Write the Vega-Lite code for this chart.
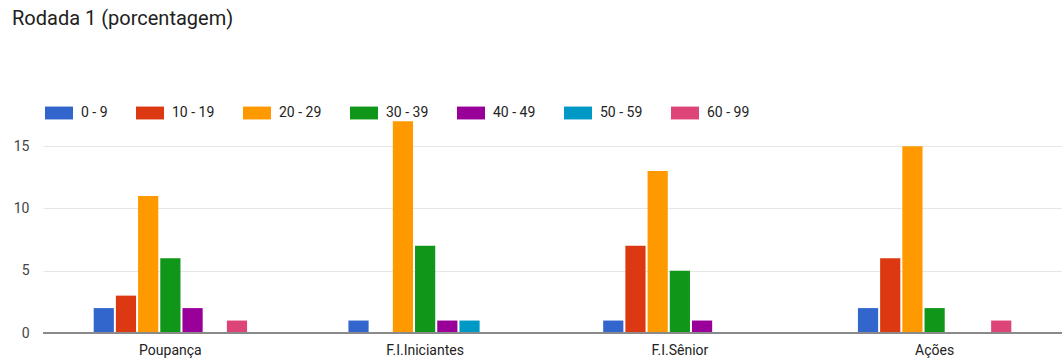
{
  "$schema": "https://vega.github.io/schema/vega-lite/v6.json",
  "width": 1019,
  "height": 218,
  "autosize": {"type": "none"},
  "padding": {"left": 43, "top": 115, "right": 0, "bottom": 28},
  "background": "white",
  "config": {
    "font": "Roboto",
    "view": {"stroke": null}
  },
  "title": {
    "text": "Rodada 1 (porcentagem)",
    "anchor": "start",
    "frame": "group",
    "dx": -31,
    "offset": 54,
    "baseline": "alphabetic",
    "fontSize": 20,
    "fontWeight": "normal",
    "color": "#212121",
    "font": "Roboto"
  },
  "data": {
    "values": [
      {"categoria": "Poupança", "faixa": "0 - 9", "valor": 2},
      {"categoria": "Poupança", "faixa": "10 - 19", "valor": 3},
      {"categoria": "Poupança", "faixa": "20 - 29", "valor": 11},
      {"categoria": "Poupança", "faixa": "30 - 39", "valor": 6},
      {"categoria": "Poupança", "faixa": "40 - 49", "valor": 2},
      {"categoria": "Poupança", "faixa": "50 - 59", "valor": 0},
      {"categoria": "Poupança", "faixa": "60 - 99", "valor": 1},
      {"categoria": "F.I.Iniciantes", "faixa": "0 - 9", "valor": 1},
      {"categoria": "F.I.Iniciantes", "faixa": "10 - 19", "valor": 0},
      {"categoria": "F.I.Iniciantes", "faixa": "20 - 29", "valor": 17},
      {"categoria": "F.I.Iniciantes", "faixa": "30 - 39", "valor": 7},
      {"categoria": "F.I.Iniciantes", "faixa": "40 - 49", "valor": 1},
      {"categoria": "F.I.Iniciantes", "faixa": "50 - 59", "valor": 1},
      {"categoria": "F.I.Iniciantes", "faixa": "60 - 99", "valor": 0},
      {"categoria": "F.I.Sênior", "faixa": "0 - 9", "valor": 1},
      {"categoria": "F.I.Sênior", "faixa": "10 - 19", "valor": 7},
      {"categoria": "F.I.Sênior", "faixa": "20 - 29", "valor": 13},
      {"categoria": "F.I.Sênior", "faixa": "30 - 39", "valor": 5},
      {"categoria": "F.I.Sênior", "faixa": "40 - 49", "valor": 1},
      {"categoria": "F.I.Sênior", "faixa": "50 - 59", "valor": 0},
      {"categoria": "F.I.Sênior", "faixa": "60 - 99", "valor": 0},
      {"categoria": "Ações", "faixa": "0 - 9", "valor": 2},
      {"categoria": "Ações", "faixa": "10 - 19", "valor": 6},
      {"categoria": "Ações", "faixa": "20 - 29", "valor": 15},
      {"categoria": "Ações", "faixa": "30 - 39", "valor": 2},
      {"categoria": "Ações", "faixa": "40 - 49", "valor": 0},
      {"categoria": "Ações", "faixa": "50 - 59", "valor": 0},
      {"categoria": "Ações", "faixa": "60 - 99", "valor": 1}
    ]
  },
  "layer": [
    {
      "mark": {"type": "bar"},
      "encoding": {
        "x": {
          "field": "categoria",
          "type": "nominal",
          "sort": ["Poupança", "F.I.Iniciantes", "F.I.Sênior", "Ações"],
          "scale": {"paddingInner": 0.39, "paddingOuter": 0.195},
          "axis": {
            "title": null,
            "labelAngle": 0,
            "ticks": false,
            "domain": false,
            "labelFontSize": 14,
            "labelColor": "#222222",
            "labelPadding": 10,
            "labelFont": "Roboto"
          }
        },
        "xOffset": {
          "field": "faixa",
          "type": "nominal",
          "sort": ["0 - 9", "10 - 19", "20 - 29", "30 - 39", "40 - 49", "50 - 59", "60 - 99"],
          "scale": {"paddingInner": 0.09, "paddingOuter": 0.045}
        },
        "y": {
          "field": "valor",
          "type": "quantitative",
          "scale": {"domain": [0, 17.5], "nice": false},
          "axis": {
            "title": null,
            "values": [0, 2.5, 5, 7.5, 10, 12.5, 15, 17.5],
            "labelExpr": "datum.value % 5 === 0 ? datum.label : ''",
            "ticks": false,
            "domain": false,
            "gridColor": "#e6e6e6",
            "gridWidth": 1,
            "labelFontSize": 14,
            "labelColor": "#444444",
            "labelPadding": 14,
            "labelFont": "Roboto"
          }
        },
        "color": {
          "field": "faixa",
          "type": "nominal",
          "sort": ["0 - 9", "10 - 19", "20 - 29", "30 - 39", "40 - 49", "50 - 59", "60 - 99"],
          "scale": {
            "domain": ["0 - 9", "10 - 19", "20 - 29", "30 - 39", "40 - 49", "50 - 59", "60 - 99"],
            "range": ["#3366cc", "#dc3912", "#ff9900", "#109618", "#990099", "#0099c6", "#dd4477"]
          },
          "legend": {
            "title": null,
            "orient": "none",
            "direction": "horizontal",
            "legendX": 2,
            "legendY": -16,
            "symbolType": "M-1,-0.46H1V0.46H-1Z",
            "symbolSize": 784,
            "symbolStrokeWidth": 0,
            "symbolOpacity": 1,
            "labelFontSize": 14,
            "labelColor": "#222222",
            "labelFont": "Roboto",
            "labelOffset": 8,
            "columnPadding": 28
          }
        }
      }
    },
    {
      "mark": {"type": "rule", "color": "#8a8a8a", "strokeWidth": 1.5},
      "encoding": {"y": {"datum": 0}}
    }
  ]
}
